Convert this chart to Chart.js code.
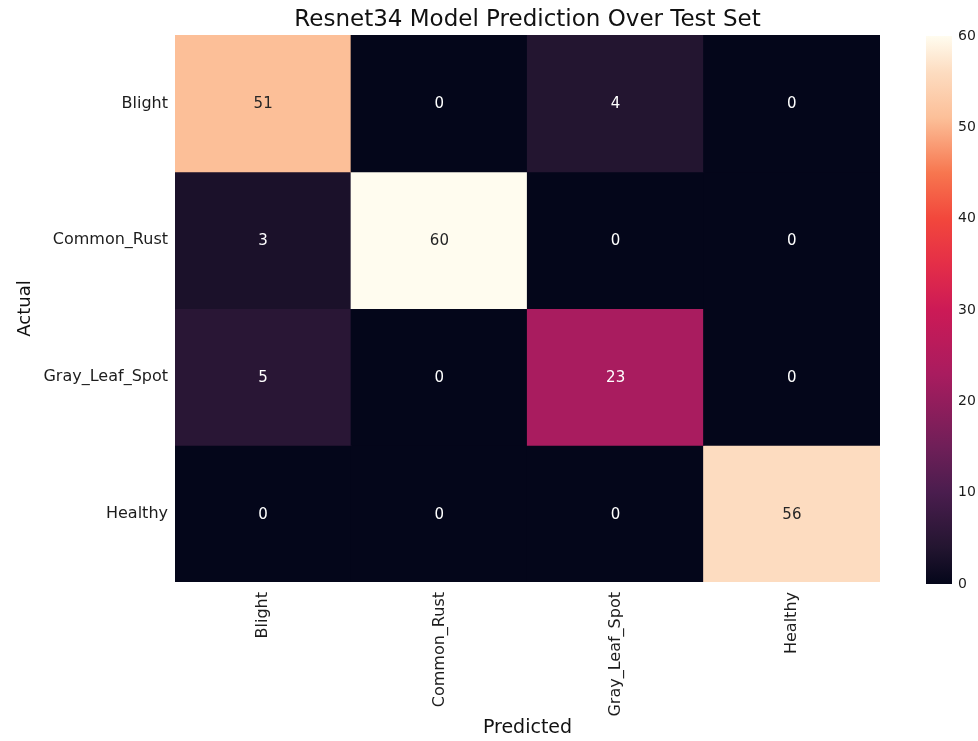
<!DOCTYPE html>
<html>
<head>
<meta charset="utf-8">
<script src="https://cdn.jsdelivr.net/npm/chart.js@4.4.1/dist/chart.umd.min.js"></script>
<style>
  html, body { margin: 0; padding: 0; background: #ffffff; }
  #wrap { position: relative; width: 978px; height: 741px; overflow: hidden; }
  #heat { position: absolute; left: 0; top: 0; }
  #cbar { position: absolute; left: 900px; top: 0; }
</style>
</head>
<body>
<div id="wrap">
  <canvas id="heat" width="900" height="741"></canvas>
  <canvas id="cbar" width="78" height="741"></canvas>
</div>
<script>
// Confusion matrix: rows are actual classes, columns are predicted classes
const predictedLabels = ['Blight', 'Common_Rust', 'Gray_Leaf_Spot', 'Healthy'];
const actualLabels = ['Blight', 'Common_Rust', 'Gray_Leaf_Spot', 'Healthy'];
const blightRow = [51, 0, 4, 0];
const commonRustRow = [3, 60, 0, 0];
const grayLeafSpotRow = [5, 0, 23, 0];
const healthyRow = [0, 0, 0, 56];
const colorbarTicks = [0, 10, 20, 30, 40, 50, 60];
const vmin = 0;
const vmax = 60;

const rows = [blightRow, commonRustRow, grayLeafSpotRow, healthyRow];

// "rocket"-style sequential colormap stops (position 0..1 -> colour)
const cmapStops = [
  [0.00, '#04061a'],
  [0.0667, '#231530'],
  [0.1667, '#4a1d4e'],
  [0.25, '#6f1f58'],
  [0.3833, '#a91c5f'],
  [0.50, '#cc1a56'],
  [0.5833, '#e42e48'],
  [0.6667, '#f2473c'],
  [0.75, '#f7764f'],
  [0.85, '#fcbf98'],
  [0.9333, '#fddcc0'],
  [1.00, '#fffcef']
];

function hexToRgb(h) {
  const n = parseInt(h.slice(1), 16);
  return [(n >> 16) & 255, (n >> 8) & 255, n & 255];
}
function cmapRgb(t) {
  t = Math.max(0, Math.min(1, t));
  for (let i = 1; i < cmapStops.length; i++) {
    const [p1, c1] = cmapStops[i];
    if (t <= p1) {
      const [p0, c0] = cmapStops[i - 1];
      const f = (t - p0) / (p1 - p0);
      const a = hexToRgb(c0), b = hexToRgb(c1);
      return a.map((v, k) => Math.round(v + (b[k] - v) * f));
    }
  }
  return hexToRgb(cmapStops[cmapStops.length - 1][1]);
}
function cmapColor(v) {
  const c = cmapRgb((v - vmin) / (vmax - vmin));
  return `rgb(${c[0]},${c[1]},${c[2]})`;
}
function luminance(v) {
  const c = cmapRgb((v - vmin) / (vmax - vmin)).map(x => {
    x /= 255;
    return x <= 0.03928 ? x / 12.92 : Math.pow((x + 0.055) / 1.055, 2.4);
  });
  return 0.2126 * c[0] + 0.7152 * c[1] + 0.0722 * c[2];
}

const FONT = "'DejaVu Sans', 'Liberation Sans', sans-serif";
const TEXT = '#1c1c1c';

// One floating-bar dataset per actual class; each bar spans one row band
const datasets = rows.map((row, r) => ({
  label: actualLabels[r],
  data: row.map((v, c) => ({ x: predictedLabels[c], y: [r, r + 1], v })),
  backgroundColor: row.map(v => cmapColor(v)),
  borderWidth: 0,
  inflateAmount: 0.6,
  grouped: false,
  barPercentage: 1,
  categoryPercentage: 1
}));

// Writes each cell's count at its centre
const cellLabels = {
  id: 'cellLabels',
  afterDatasetsDraw(chart) {
    const ctx = chart.ctx;
    ctx.save();
    ctx.font = `15px ${FONT}`;
    ctx.textAlign = 'center';
    ctx.textBaseline = 'middle';
    chart.data.datasets.forEach((ds, i) => {
      chart.getDatasetMeta(i).data.forEach((el, j) => {
        const v = ds.data[j].v;
        const p = el.getCenterPoint();
        ctx.fillStyle = luminance(v) > 0.408 ? '#262626' : '#ffffff';
        ctx.fillText(String(v), p.x, p.y + 1);
      });
    });
    ctx.restore();
  }
};

new Chart(document.getElementById('heat'), {
  type: 'bar',
  data: { labels: predictedLabels, datasets },
  plugins: [cellLabels],
  options: {
    responsive: false,
    animation: false,
    layout: { padding: { left: 0, right: 20, top: 0, bottom: 0 } },
    plugins: {
      legend: { display: false },
      tooltip: { enabled: false },
      title: {
        display: true,
        text: 'Resnet34 Model Prediction Over Test Set',
        fullSize: false,
        color: '#111111',
        font: { family: FONT, size: 23, weight: 'normal' },
        padding: { top: 6, bottom: 1.4 }
      }
    },
    scales: {
      x: {
        type: 'category',
        offset: true,
        grid: { display: false, drawTicks: false },
        border: { display: false },
        ticks: {
          color: TEXT,
          font: { family: FONT, size: 16 },
          minRotation: 90,
          maxRotation: 90,
          padding: 10,
          autoSkip: false
        },
        title: {
          display: true,
          text: 'Predicted',
          color: '#111111',
          font: { family: FONT, size: 19 },
          padding: { top: 0, bottom: 1.6 }
        },
        afterFit(scale) { scale.height = 159; }
      },
      y: {
        type: 'linear',
        min: 0,
        max: actualLabels.length,
        reverse: true,
        grid: { display: false, drawTicks: false },
        border: { display: false },
        afterBuildTicks(scale) {
          scale.ticks = actualLabels.map((_, i) => ({ value: i + 0.5 }));
        },
        ticks: {
          color: TEXT,
          font: { family: FONT, size: 16 },
          padding: 7,
          callback: (value) => actualLabels[Math.floor(value)]
        },
        title: {
          display: true,
          text: 'Actual',
          color: '#111111',
          font: { family: FONT, size: 18 },
          padding: { top: 15, bottom: 0 }
        },
        afterFit(scale) { scale.width = 175; }
      }
    }
  }
});

// Colour bar: a single floating bar from vmin to vmax filled with the colormap
new Chart(document.getElementById('cbar'), {
  type: 'bar',
  data: {
    labels: [''],
    datasets: [{
      data: [[vmin, vmax]],
      backgroundColor(context) {
        const chart = context.chart;
        const ys = chart.scales.y;
        if (!ys || !chart.chartArea) return cmapColor(vmin);
        const y0 = ys.getPixelForValue(vmin);
        const y1 = ys.getPixelForValue(vmax);
        const g = chart.ctx.createLinearGradient(0, y0, 0, y1);
        cmapStops.forEach(([p, c]) => g.addColorStop(p, c));
        return g;
      },
      borderWidth: 0,
      barPercentage: 1,
      categoryPercentage: 1
    }]
  },
  options: {
    responsive: false,
    animation: false,
    layout: { padding: { left: 26, right: 0, top: 36, bottom: 157 } },
    plugins: { legend: { display: false }, tooltip: { enabled: false } },
    scales: {
      x: { display: false },
      y: {
        type: 'linear',
        position: 'right',
        min: vmin,
        max: vmax,
        grid: { display: false, drawTicks: false },
        border: { display: false },
        afterBuildTicks(scale) {
          scale.ticks = colorbarTicks.map(v => ({ value: v }));
        },
        ticks: {
          color: TEXT,
          font: { family: FONT, size: 14 },
          padding: 6
        },
        afterFit(scale) { scale.width = 26; }
      }
    }
  }
});
</script>
</body>
</html>
